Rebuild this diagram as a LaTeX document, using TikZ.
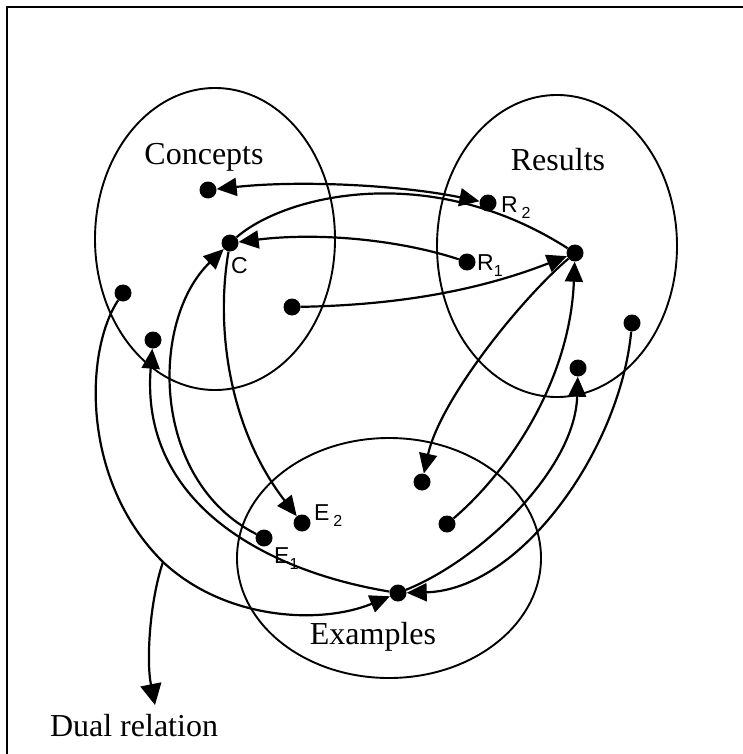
\documentclass[tikz,border=0pt]{standalone}
\usepackage{fontspec}
\setmainfont{Liberation Serif}
\newfontfamily\labelsans{Liberation Sans}
\usepackage{tikz}
\usetikzlibrary{shapes.geometric, arrows.meta, positioning}
\newcommand{\lowidx}[1]{\raisebox{-6pt}{\fontsize{16}{18}\selectfont #1}}

\begin{document}
\begin{tikzpicture}[
    x=1pt, y=-1pt,
    >={Triangle[length=20pt, width=18pt]},
    setellipse/.style={draw, ellipse, line width=1.9pt, inner sep=0pt},
    setlabel/.style={font=\fontsize{32}{36}\selectfont, inner sep=0pt},
    dot/.style={circle, fill, inner sep=0pt, minimum size=17pt},
    ptlabel/.style={font=\labelsans\fontsize{23}{26}\selectfont, inner sep=0pt, anchor=base west},
    relation/.style={line width=2.2pt}
]
    \useasboundingbox (0,0) rectangle (743,754);
    \draw[line width=2.5pt] (7,754) -- (7,7) -- (743,7);

    % ==================== SETS ====================
    \node[setellipse, minimum width=240pt, minimum height=302pt] (concepts) at (215,239) {};
    \node[setellipse, minimum width=240pt, minimum height=302pt] (results) at (557,246) {};
    \node[setellipse, minimum width=304pt, minimum height=240pt] (examples) at (389,558) {};
    \node[setlabel] (conceptslabel) at (204,157) {Concepts};
    \node[setlabel] (resultslabel) at (558,160) {Results};
    \node[setlabel] (exampleslabel) at (373,637) {Examples};
    \node[setlabel] (duallabel) at (134,726) {Dual relation};
    \coordinate (dualtip) at (155,705);

    % ==================== CONCEPT POINTS ====================
    \node[dot] (ctop) at (208,190) {};
    \node[dot] (cc) at (230,243) {};
    \node[dot] (cleft) at (123,293) {};
    \node[dot] (clow) at (153,340) {};
    \node[dot] (cright) at (292,307) {};
    \node[ptlabel] at (231,273) {C};

    % ==================== RESULT POINTS ====================
    \node[dot] (rtwo) at (488,203) {};
    \node[dot] (rone) at (467,262) {};
    \node[dot] (rhub) at (575,253) {};
    \node[dot] (rright) at (632,323) {};
    \node[dot] (rlow) at (578,368) {};
    \node[ptlabel] at (501,212) {R\,\lowidx{2}};
    \node[ptlabel] at (477,270) {R\lowidx{1}};

    % ==================== EXAMPLE POINTS ====================
    \node[dot] (etwo) at (302,523) {};
    \node[dot] (eone) at (264,538) {};
    \node[dot] (etop) at (422,482) {};
    \node[dot] (eright) at (447,524) {};
    \node[dot] (ehub) at (398,593) {};
    \node[ptlabel] at (314,520) {E\,\lowidx{2}};
    \node[ptlabel] at (274,563) {E\lowidx{1}};

    % ==================== RELATIONS ====================
    % concepts and results
    \draw[relation, <->] (ctop) .. controls (300,180) and (400,185) .. (rtwo);
    \draw[relation, ->] (rone) .. controls (400,240) and (320,232) .. (cc);
    \draw[relation] (cc) .. controls (285,195) and (430,160) .. (rhub);
    \draw[relation, ->] (cright) .. controls (400,305) and (480,290) .. (rhub);

    % results and examples
    \draw[relation, ->] (rhub) .. controls (520,300) and (440,400) .. (etop);
    \draw[relation, ->] (eright) .. controls (510,470) and (570,380) .. (rhub);
    \draw[relation, ->] (ehub) .. controls (480,560) and (575,470) .. (rlow);
    \draw[relation, ->] (rright) .. controls (620,450) and (520,590) .. (ehub);

    % concepts and examples
    \draw[relation, ->] (cleft) .. controls (85,350) and (80,480) .. (163,562) coordinate (dual)
        .. controls (225,620) and (320,625) .. (ehub);
    \draw[relation, ->] (ehub) .. controls (260,570) and (140,500) .. (clow);
    \draw[relation, ->] (eone) .. controls (150,480) and (150,320) .. (cc);
    \draw[relation, ->] (cc) .. controls (215,330) and (230,430) .. (etwo);

    % pointer to the label
    \draw[relation, -{Triangle[length=21pt, width=21pt]}] (dual) .. controls (150,600) and (146,660) .. (dualtip);
\end{tikzpicture}
\end{document}
